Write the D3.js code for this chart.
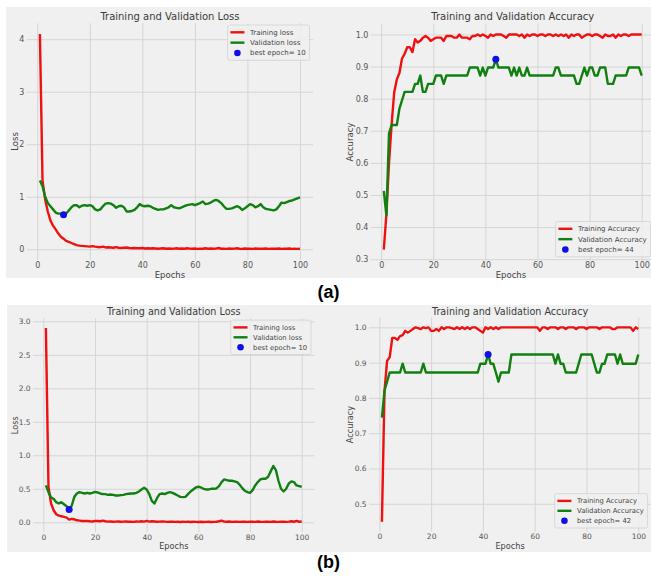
<!DOCTYPE html>
<html>
<head>
<meta charset="utf-8">
<script src="https://cdn.jsdelivr.net/npm/d3@7"></script>
<style>
body { margin:0; background:#fff; }
svg { display:block; font-family:"DejaVu Sans", sans-serif; }
</style>
</head>
<body>
<div id="chart"></div>
<script>
// ---- data (epochs 1..100) ----
var epochs = d3.range(1, 101)

var lossTrainA = [4.1,1.3,0.95,0.72,0.55,0.45,0.38,0.3,0.24,0.2,
  0.16,0.14,0.12,0.1,0.08,0.07,0.065,0.06,0.055,0.05,
  0.06,0.05,0.045,0.04,0.05,0.035,0.04,0.035,0.03,0.04,
  0.03,0.025,0.03,0.035,0.025,0.02,0.025,0.02,0.02,0.025,
  0.015,0.02,0.015,0.02,0.015,0.01,0.015,0.02,0.01,0.015,
  0.01,0.012,0.02,0.01,0.015,0.01,0.02,0.012,0.01,0.015,
  0.008,0.012,0.01,0.02,0.01,0.015,0.01,0.012,0.025,0.01,
  0.012,0.008,0.015,0.01,0.012,0.02,0.01,0.008,0.015,0.01,
  0.012,0.008,0.015,0.01,0.012,0.01,0.015,0.008,0.01,0.012,
  0.01,0.015,0.008,0.012,0.01,0.015,0.008,0.01,0.008,0.01]

var lossValA = [1.31,1.2,1.0,0.88,0.82,0.76,0.7,0.68,0.68,0.66,
  0.68,0.74,0.8,0.84,0.84,0.8,0.83,0.84,0.83,0.84,
  0.82,0.76,0.74,0.76,0.82,0.87,0.88,0.87,0.84,0.79,
  0.82,0.83,0.8,0.72,0.72,0.73,0.75,0.8,0.86,0.83,
  0.82,0.83,0.82,0.79,0.77,0.75,0.76,0.76,0.78,0.8,
  0.84,0.8,0.79,0.78,0.8,0.82,0.84,0.85,0.86,0.84,
  0.86,0.88,0.91,0.86,0.87,0.89,0.92,0.94,0.92,0.88,
  0.82,0.77,0.77,0.78,0.8,0.82,0.8,0.75,0.78,0.82,
  0.86,0.84,0.8,0.82,0.86,0.8,0.77,0.76,0.75,0.74,
  0.76,0.82,0.89,0.88,0.9,0.92,0.93,0.95,0.97,0.99]

var accTrainA = [0.33,0.44,0.6,0.72,0.82,0.86,0.88,0.925,0.94,0.96,
  0.96,0.945,0.985,0.975,0.98,0.99,0.995,0.99,0.98,0.985,
  0.99,0.99,0.99,0.98,0.995,0.995,0.995,0.99,0.99,1.0,
  0.99,0.99,0.99,0.985,0.995,0.995,1.0,0.995,1.0,0.995,
  0.99,1.0,0.995,1.0,1.0,1.0,0.995,0.99,1.0,1.0,
  1.0,1.0,0.995,1.0,0.99,1.0,0.995,1.0,1.0,0.995,
  1.0,1.0,0.995,1.0,1.0,0.995,1.0,0.995,1.0,0.995,
  1.0,0.99,1.0,0.995,1.0,1.0,0.99,0.995,1.0,1.0,
  0.995,1.0,1.0,0.995,0.99,1.0,0.995,0.995,1.0,0.99,
  1.0,0.995,1.0,1.0,0.995,1.0,1.0,1.0,1.0,1.0]

var accValA = [0.513,0.436,0.692,0.718,0.718,0.718,0.769,0.795,0.821,0.821,
  0.821,0.821,0.846,0.846,0.872,0.821,0.821,0.846,0.846,0.846,
  0.872,0.872,0.872,0.846,0.872,0.872,0.872,0.872,0.872,0.872,
  0.872,0.872,0.872,0.897,0.897,0.897,0.897,0.872,0.897,0.872,
  0.897,0.897,0.897,0.923,0.897,0.897,0.897,0.897,0.897,0.872,
  0.897,0.872,0.897,0.872,0.872,0.897,0.872,0.872,0.872,0.872,
  0.872,0.872,0.872,0.872,0.872,0.872,0.897,0.897,0.872,0.872,
  0.872,0.872,0.872,0.872,0.846,0.846,0.872,0.897,0.872,0.897,
  0.897,0.872,0.872,0.897,0.897,0.897,0.846,0.846,0.846,0.872,
  0.872,0.872,0.872,0.872,0.897,0.897,0.897,0.897,0.897,0.872]

var lossTrainB = [2.9,0.53,0.28,0.18,0.12,0.1,0.09,0.08,0.07,0.04,
  0.05,0.045,0.03,0.025,0.02,0.02,0.02,0.015,0.012,0.02,
  0.02,0.015,0.025,0.015,0.01,0.012,0.008,0.01,0.012,0.008,
  0.01,0.012,0.008,0.01,0.006,0.012,0.01,0.015,0.01,0.02,
  0.01,0.015,0.012,0.008,0.01,0.012,0.01,0.006,0.008,0.01,
  0.006,0.008,0.005,0.008,0.006,0.01,0.005,0.008,0.006,0.005,
  0.008,0.005,0.006,0.008,0.005,0.006,0.008,0.015,0.025,0.01,
  0.008,0.012,0.006,0.01,0.008,0.006,0.01,0.008,0.006,0.01,
  0.008,0.006,0.012,0.008,0.006,0.01,0.008,0.006,0.012,0.008,
  0.006,0.01,0.008,0.006,0.01,0.015,0.008,0.02,0.008,0.012]

var lossValB = [0.55,0.45,0.37,0.35,0.3,0.28,0.3,0.27,0.24,0.19,
  0.25,0.38,0.43,0.45,0.44,0.43,0.44,0.43,0.44,0.455,
  0.445,0.43,0.42,0.42,0.41,0.415,0.41,0.4,0.4,0.405,
  0.41,0.42,0.425,0.43,0.43,0.44,0.46,0.49,0.515,0.49,
  0.42,0.32,0.28,0.36,0.42,0.43,0.42,0.44,0.45,0.44,
  0.42,0.4,0.38,0.375,0.38,0.42,0.46,0.49,0.52,0.53,
  0.52,0.5,0.49,0.49,0.5,0.5,0.505,0.54,0.6,0.64,
  0.63,0.62,0.62,0.61,0.6,0.56,0.51,0.47,0.45,0.44,
  0.48,0.55,0.6,0.64,0.65,0.65,0.68,0.76,0.84,0.78,
  0.62,0.5,0.46,0.5,0.58,0.61,0.6,0.55,0.54,0.53]

var accTrainB = [0.449,0.82,0.905,0.915,0.97,0.97,0.965,0.975,0.978,0.99,
  0.985,0.99,0.995,1.0,0.998,0.995,1.0,0.998,1.0,0.99,
  0.99,0.995,0.99,1.0,0.995,1.0,1.0,0.998,0.995,1.0,
  0.995,1.0,0.995,1.0,0.995,1.0,1.0,0.995,0.99,0.985,
  1.0,0.995,1.0,0.995,1.0,0.995,1.0,1.0,1.0,1.0,
  1.0,1.0,1.0,1.0,1.0,1.0,1.0,1.0,1.0,1.0,
  1.0,0.99,1.0,1.0,0.995,1.0,1.0,1.0,0.995,1.0,
  1.0,0.995,1.0,1.0,1.0,0.995,1.0,1.0,1.0,0.995,
  1.0,1.0,1.0,1.0,0.995,1.0,1.0,1.0,1.0,0.995,
  0.995,1.0,1.0,1.0,1.0,1.0,1.0,0.99,1.0,0.995]

var accValB = [0.744,0.821,0.846,0.872,0.872,0.872,0.872,0.872,0.897,0.872,
  0.872,0.872,0.872,0.872,0.872,0.872,0.897,0.872,0.872,0.872,
  0.872,0.872,0.872,0.872,0.872,0.872,0.872,0.872,0.872,0.872,
  0.872,0.872,0.872,0.872,0.872,0.872,0.872,0.872,0.897,0.897,
  0.897,0.923,0.897,0.897,0.872,0.846,0.872,0.872,0.872,0.872,
  0.923,0.923,0.923,0.923,0.923,0.923,0.923,0.923,0.923,0.923,
  0.923,0.923,0.923,0.923,0.923,0.923,0.923,0.897,0.923,0.897,
  0.897,0.872,0.872,0.872,0.872,0.872,0.897,0.923,0.923,0.923,
  0.923,0.923,0.897,0.872,0.872,0.897,0.897,0.923,0.923,0.923,
  0.923,0.897,0.923,0.897,0.897,0.897,0.897,0.897,0.897,0.923]

var xTicks = [0, 20, 40, 60, 80, 100]
var lossTicksA = [0, 1, 2, 3, 4]
var accTicksA = [0.3, 0.4, 0.5, 0.6, 0.7, 0.8, 0.9, 1.0]
var lossTicksB = [0.0, 0.5, 1.0, 1.5, 2.0, 2.5, 3.0]
var accTicksB = [0.5, 0.6, 0.7, 0.8, 0.9, 1.0]

var red = "#ee1111", green = "#108010", blue = "#1010e6"
var W = 651, H = 576

var svg = d3.select("#chart").append("svg").attr("width", W).attr("height", H)
svg.append("rect").attr("width", W).attr("height", H).attr("fill", "#fff")
// figure backgrounds of the two screenshots
svg.append("rect").attr("x", 6).attr("y", 7).attr("width", 645).attr("height", 271).attr("fill", "#f0f0f0")
svg.append("rect").attr("x", 7).attr("y", 305).attr("width", 644).attr("height", 247).attr("fill", "#f0f0f0")

var rowTop = {titleY: 19.5, labY: 277.5, tickFs: 8, titleFs: 10, labFs: 8.5, legFs: 7, legGap: 10.35}
var rowBot = {titleY: 315, labY: 549, tickFs: 7.5, titleFs: 9.6, labFs: 8.2, legFs: 6.8, legGap: 9.9}

var panels = [
  {title: "Training and Validation Loss", ylab: "Loss", train: lossTrainA, val: lossValA, best: "min",
   names: ["Training loss", "Validation loss"], xr: [26.9, 313], yd: [-0.2, 4.305], yr: [259.8, 23.2],
   yt: lossTicksA, fmt: d3.format("d"), leg: "top", ylabX: 18, row: rowTop},
  {title: "Training and Validation Accuracy", ylab: "Accuracy", train: accTrainA, val: accValA, best: "max",
   names: ["Training Accuracy", "Validation Accuracy"], xr: [370.9, 654.6], yd: [0.2965, 1.0335], yr: [260.3, 23.7],
   yt: accTicksA, fmt: d3.format(".1f"), leg: "bottom", ylabX: 353, row: rowTop},
  {title: "Training and Validation Loss", ylab: "Loss", train: lossTrainB, val: lossValB, best: "min",
   names: ["Training loss", "Validation loss"], xr: [33.1, 314.5], yd: [-0.145, 3.045], yr: [532, 318.3],
   yt: lossTicksB, fmt: d3.format(".1f"), leg: "top", ylabX: 18, row: rowBot},
  {title: "Training and Validation Accuracy", ylab: "Accuracy", train: accTrainB, val: accValB, best: "max",
   names: ["Training Accuracy", "Validation Accuracy"], xr: [369.1, 651.1], yd: [0.4214, 1.0276], yr: [531.5, 317.6],
   yt: accTicksB, fmt: d3.format(".1f"), leg: "bottom", ylabX: 353, row: rowBot}
]

panels.forEach(drawPanel)

function drawPanel(p){
    var r = p.row
    var x = d3.scaleLinear().domain([-3.95, 104.95]).range(p.xr)
    var y = d3.scaleLinear().domain(p.yd).range(p.yr)
    var g = svg.append("g")

    var gx = g.append("g")
        .attr("transform", "translate(0," + p.yr[0] + ")")
        .call(d3.axisBottom(x).tickValues(xTicks).tickSize(-(p.yr[0] - p.yr[1])).tickPadding(2.5))
    var gy = g.append("g")
        .attr("transform", "translate(" + p.xr[0] + ",0)")
        .call(d3.axisLeft(y).tickValues(p.yt).tickFormat(p.fmt).tickSize(-(p.xr[1] - p.xr[0])).tickPadding(2.5))
    ;[gx, gy].forEach(function(a){
        a.select(".domain").remove()
        a.attr("font-family", null).attr("font-size", null)
        a.selectAll("line").attr("stroke", "#d5d5d5").attr("stroke-width", 1)
        a.selectAll("text").attr("fill", "#555").style("font-size", r.tickFs + "px")
    })

    // title and axis labels
    g.append("text").attr("x", (p.xr[0] + p.xr[1]) / 2).attr("y", r.titleY)
        .attr("text-anchor", "middle").attr("fill", "#3a3a3a").style("font-size", r.titleFs + "px").text(p.title)
    g.append("text").attr("x", (p.xr[0] + Math.min(p.xr[1], W)) / 2).attr("y", r.labY)
        .attr("text-anchor", "middle").attr("fill", "#444").style("font-size", r.labFs + "px").text("Epochs")
    var cy = (p.yr[0] + p.yr[1]) / 2
    g.append("text").attr("transform", "translate(" + p.ylabX + "," + cy + ")rotate(-90)")
        .attr("text-anchor", "middle").attr("fill", "#444").style("font-size", r.labFs + "px").text(p.ylab)

    var line = d3.line()
        .x(function(d, i){ return x(epochs[i]) })
        .y(function(d){ return y(d) })
    g.append("path").datum(p.train).attr("d", line).attr("fill", "none")
        .attr("stroke", red).attr("stroke-width", 2.4).attr("stroke-linejoin", "round")
    g.append("path").datum(p.val).attr("d", line).attr("fill", "none")
        .attr("stroke", green).attr("stroke-width", 2.4).attr("stroke-linejoin", "round")

    var bi = p.best == "min" ? d3.minIndex(p.val) : d3.maxIndex(p.val)
    g.append("circle").attr("cx", x(epochs[bi])).attr("cy", y(p.val[bi])).attr("r", 3.5).attr("fill", blue)

    // legend
    var labels = [p.names[0], p.names[1], "best epoch= " + epochs[bi]]
    var lg = g.append("g")
    var box = lg.append("rect").attr("rx", 2).attr("fill", "#f0f0f0").attr("fill-opacity", 0.85)
        .attr("stroke", "#d2d2d2").attr("stroke-width", 0.8)
    var pad = 2.8, hl = 14, tp = 5.6, top = 7.3
    var texts = lg.selectAll("text.lg").data(labels).enter().append("text")
        .attr("x", pad + hl + tp).attr("y", function(d, i){ return top + i * r.legGap })
        .attr("dy", "0.35em").attr("fill", "#444").style("font-size", r.legFs + "px").text(function(d){ return d })
    var tw = 0
    texts.each(function(){ tw = Math.max(tw, this.getComputedTextLength()) })
    var bw = pad + hl + tp + tw + pad + 1
    var bh = top * 2 + 2 * r.legGap
    box.attr("width", bw).attr("height", bh)
    ;[red, green].forEach(function(c, i){
        lg.append("line").attr("x1", pad).attr("x2", pad + hl)
            .attr("y1", top + i * r.legGap).attr("y2", top + i * r.legGap)
            .attr("stroke", c).attr("stroke-width", 2.4)
    })
    lg.append("circle").attr("cx", pad + hl / 2).attr("cy", top + 2 * r.legGap).attr("r", 3.3).attr("fill", blue)
    var lx = Math.min(p.xr[1], W + 3) - 3.5 - bw
    var ly = p.leg == "top" ? p.yr[1] + 1.8 : p.yr[0] - 3.5 - bh
    lg.attr("transform", "translate(" + lx + "," + ly + ")")
}

// sub-figure captions
svg.append("text").attr("x", 328.5).attr("y", 298).attr("text-anchor", "middle")
    .style("font-family", "'Liberation Sans', Arial, sans-serif").style("font-weight", "bold").style("font-size", "18px").text("(a)")
svg.append("text").attr("x", 328.5).attr("y", 568).attr("text-anchor", "middle")
    .style("font-family", "'Liberation Sans', Arial, sans-serif").style("font-weight", "bold").style("font-size", "18px").text("(b)")
</script>
</body>
</html>
